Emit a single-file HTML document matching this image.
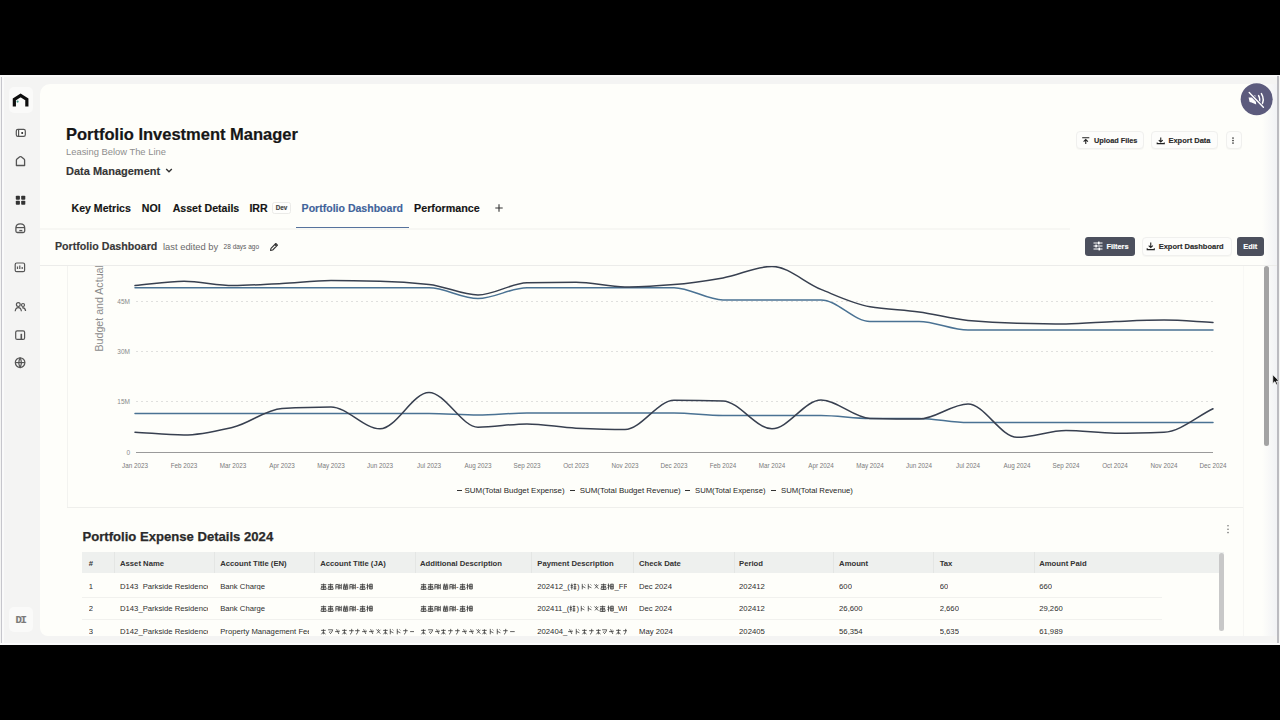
<!DOCTYPE html>
<html><head><meta charset="utf-8">
<style>
html,body{margin:0;padding:0;width:1280px;height:720px;overflow:hidden;background:#000;}
body{position:relative;font-family:"Liberation Sans",sans-serif;}
.a{position:absolute;}
.t{position:absolute;white-space:nowrap;line-height:1;font-family:"Liberation Sans",sans-serif;}
.b{font-weight:700;-webkit-text-stroke-width:0.15px;}
#screen{position:absolute;left:0;top:75px;width:1280px;height:570px;background:#f4f4f3;overflow:hidden;}
#main{position:absolute;left:40px;top:84px;width:1237px;height:552px;background:#fefefa;border-top-left-radius:10px;border-bottom-left-radius:8px;}
.btn{position:absolute;border:1px solid #f0f0ee;border-radius:4px;background:#fdfdfb;box-sizing:border-box;box-shadow:0 1px 1px rgba(0,0,0,0.03);}
.dbtn{position:absolute;background:#4c505d;border-radius:3px;}
.hl{position:absolute;height:1px;background:#ededea;}
.vl{position:absolute;width:1px;background:#f3f3f0;}
.th{position:absolute;white-space:nowrap;line-height:1;font-size:7.7px;font-weight:700;color:#333;top:559.6px;}
.td{position:absolute;white-space:nowrap;line-height:1;font-size:7.7px;color:#2e2e2e;overflow:hidden;}
.jp{font-size:7.2px;}
</style></head>
<body>
<div id="screen"></div>
<!-- top white line -->
<div class="a" style="left:0;top:75px;width:1280px;height:2px;background:#fafafa"></div>
<!-- left gray line -->
<div class="a" style="left:0.5px;top:77px;width:1.6px;height:566px;background:#c6c6cc"></div><div class="a" style="left:2.1px;top:77px;width:1.5px;height:566px;background:#fafafa"></div>
<!-- right gray line -->
<div class="a" style="left:1277px;top:76px;width:1.7px;height:566.5px;background:#bbbbc0"></div>
<div class="a" style="left:0;top:642.5px;width:1280px;height:2.5px;background:#fbfbfb"></div>
<div id="main"></div>
<div class="a" style="left:1262px;top:84px;width:15px;height:552px;background:linear-gradient(to right, rgba(242,243,246,0), #f1f2f5)"></div>

<!-- sidebar -->
<div class="a" style="left:9px;top:87px;width:24px;height:26px;border-radius:5px;background:#fafaf9"></div>
<svg class="a" style="left:0;top:80px" width="40" height="300" viewBox="0 80 40 300">
  <path d="M14.35,106.4 V99.4 L20.6,95.4 L26.85,99.4 V106.4" fill="none" stroke="#0d0d0d" stroke-width="3.2" stroke-linejoin="miter"/>
  <circle cx="17.6" cy="101.6" r="1.1" fill="#4a9a8c"/>
  <g fill="none" stroke="#555" stroke-width="1.2">
    <rect x="16.3" y="129.3" width="9" height="7.1" rx="1.6" fill="#fdfdfb"/>
    <line x1="18.6" y1="129.3" x2="18.6" y2="136.4"/>
    <path d="M16.4,165.5 V160.3 Q16.4,159.6 17,159.1 L19.8,156.8 Q20.5,156.3 21.2,156.8 L24,159.1 Q24.6,159.6 24.6,160.3 V165.5 Z" stroke-linejoin="round" stroke-width="1.3"/>
    <path d="M15.9,231 V228 Q15.9,223.9 20.3,223.9 Q24.7,223.9 24.7,228 V231 Q24.7,232.5 23.2,232.5 H17.4 Q15.9,232.5 15.9,231 Z" stroke-width="1.3"/>
    <line x1="15.9" y1="227.6" x2="24.7" y2="227.6"/>
    <rect x="15.2" y="263" width="9.4" height="8.7" rx="1.5"/>
    <path d="M17.5,269 V266.5 M19.8,269 V265.5 M22.2,269 V267"/>
    <circle cx="18.3" cy="304.6" r="1.9"/><path d="M15.2,311.3 Q15.6,307.6 18.3,307.6 Q21,307.6 21.4,311.3"/>
    <circle cx="23" cy="305" r="1.5"/><path d="M22.2,307.6 Q25.3,307.8 25.6,311"/>
    <rect x="15.7" y="330.8" width="8.9" height="8.6" rx="1.5"/>
    <rect x="20.5" y="333.8" width="1.6" height="5.6" fill="#555" stroke="none"/>
    <circle cx="22.2" cy="132.9" r="1" fill="#222" stroke="none"/>
    <rect x="19.3" y="229.9" width="3" height="1.3" fill="#555" stroke="none"/>
    <circle cx="20.1" cy="362.6" r="4.8"/><line x1="15.3" y1="362.6" x2="24.9" y2="362.6"/><path d="M20.1,357.8 Q17.6,362.6 20.1,367.4 Q22.6,362.6 20.1,357.8"/>
  </g>
  <g fill="#333">
    <rect x="15.8" y="195.8" width="4.1" height="4" rx="0.8"/><rect x="21.2" y="195.8" width="4.1" height="4" rx="0.8"/>
    <rect x="15.8" y="200.8" width="4.1" height="4" rx="0.8"/><rect x="21.2" y="200.8" width="4.1" height="4" rx="0.8"/>
  </g>
</svg>
<div class="a" style="left:9px;top:607px;width:24px;height:25px;border-radius:5px;background:#fafaf9"></div>
<div class="t b" style="left:15.4px;top:615.3px;font-size:10.6px;color:#7a7a7a;font-family:'Liberation Mono',monospace;letter-spacing:-1.2px">DI</div>

<!-- mute button -->
<svg class="a" style="left:1240px;top:82.7px" width="34" height="34" viewBox="0 0 34 34">
  <circle cx="16.7" cy="16.3" r="16" fill="#5c5b7d"/>
  <path d="M8.6,14.6 L11.4,14.6 L15.2,12 L16.2,21.6 L11.6,19.6 L9.6,19 Z" fill="#fff"/>
  <path d="M18.6,12.6 Q20.8,16.5 18.8,20.2 M21.4,10.6 Q25,16.5 21.4,22.4" fill="none" stroke="#fff" stroke-width="1.5" stroke-linecap="round"/>
  <line x1="9.2" y1="9.6" x2="23.4" y2="24.2" stroke="#5c5b7d" stroke-width="3"/>
  <line x1="9.2" y1="9.6" x2="23.4" y2="24.2" stroke="#fff" stroke-width="1.4" stroke-linecap="round"/>
</svg>

<!-- header -->
<div class="t b" style="left:66px;top:125.8px;font-size:16.5px;color:#161616;-webkit-text-stroke:0.2px #161616">Portfolio Investment Manager</div>
<div class="t" style="left:66px;top:147px;font-size:9.4px;color:#8e8e8e">Leasing Below The Line</div>
<div class="t b" style="left:66px;top:165.7px;font-size:11px;color:#353535">Data Management</div>
<svg class="a" style="left:164px;top:166px" width="12" height="10"><path d="M2.2,3 L5,5.8 L7.8,3" fill="none" stroke="#333" stroke-width="1.4"/></svg>

<div class="btn" style="left:1075.5px;top:131px;width:68.5px;height:17.5px"></div>
<svg class="a" style="left:1080px;top:134px" width="12" height="12"><path d="M2.2,3.8 H9.3 M5.75,10 V5.6 M3.6,7.6 L5.75,5.5 L7.9,7.6" fill="none" stroke="#222" stroke-width="1.1"/></svg>
<div class="t b" style="left:1094px;top:136.9px;font-size:7.3px;color:#2a2a2a">Upload Files</div>
<div class="btn" style="left:1151px;top:131px;width:67px;height:17.5px"></div>
<svg class="a" style="left:1155px;top:134px" width="12" height="12"><path d="M5.75,3.6 V8 M3.8,6.1 L5.75,8 L7.7,6.1 M2.2,8.6 V9.6 H9.3 V8.6" fill="none" stroke="#222" stroke-width="1.1"/></svg>
<div class="t b" style="left:1168.4px;top:136.9px;font-size:7.5px;color:#2a2a2a">Export Data</div>
<div class="btn" style="left:1225.5px;top:131px;width:16.5px;height:17.5px"></div>
<svg class="a" style="left:1230px;top:134px" width="6" height="12"><circle cx="3" cy="4" r="0.85" fill="#333"/><circle cx="3" cy="6.5" r="0.85" fill="#333"/><circle cx="3" cy="9" r="0.85" fill="#333"/></svg>

<!-- tabs -->
<div class="t b" style="left:71.6px;top:203px;font-size:10.55px;color:#151515">Key Metrics</div>
<div class="t b" style="left:141.8px;top:203px;font-size:10.6px;color:#151515">NOI</div>
<div class="t b" style="left:172.7px;top:203px;font-size:10.6px;color:#151515">Asset Details</div>
<div class="t b" style="left:249.4px;top:203px;font-size:10.6px;color:#151515">IRR</div>
<div class="a" style="left:272.4px;top:202px;width:18.6px;height:12.2px;border:1px solid #ebebe8;border-radius:2.5px;box-sizing:border-box;background:#fefefc"></div>
<div class="t b" style="left:275.8px;top:204.9px;font-size:6.3px;color:#444">Dev</div>
<div class="t b" style="left:301.6px;top:203px;font-size:10.55px;color:#41639a">Portfolio Dashboard</div>
<div class="t b" style="left:414px;top:203px;font-size:10.75px;color:#151515">Performance</div>
<svg class="a" style="left:493px;top:202px" width="12" height="12"><path d="M6,2.3 V9.7 M2.3,6 H9.7" fill="none" stroke="#333" stroke-width="1.1"/></svg>
<div class="hl" style="left:40px;top:228px;width:1030px;height:1.5px;background:#f7f7f3"></div>
<div class="a" style="left:296px;top:226.6px;width:113px;height:1.5px;background:#56729c"></div>

<!-- dashboard bar -->
<div class="t b" style="left:55px;top:241.4px;font-size:10.65px;color:#383838">Portfolio Dashboard</div>
<div class="t" style="left:163px;top:242.4px;font-size:9.4px;color:#6a6a6a">last edited by</div>
<div class="t" style="left:223.6px;top:244px;font-size:6.5px;color:#5a5a5a">28 days ago</div>
<svg class="a" style="left:268px;top:241px" width="12" height="12"><path d="M2.5,9.5 L3,7.3 L7.8,2.5 L9.5,4.2 L4.7,9 Z M6.8,3.5 L8.5,5.2" fill="none" stroke="#333" stroke-width="1.1" stroke-linejoin="round"/></svg>

<div class="dbtn" style="left:1085px;top:237px;width:50px;height:18.7px"></div>
<svg class="a" style="left:1092px;top:240px" width="12" height="12"><path d="M1.5,3 H10.5 M1.5,6 H10.5 M1.5,9 H10.5" fill="none" stroke="#fff" stroke-width="1"/><rect x="6" y="1.6" width="1.6" height="2.8" fill="#fff"/><rect x="3.3" y="4.6" width="1.6" height="2.8" fill="#fff"/><rect x="6.5" y="7.6" width="1.6" height="2.8" fill="#fff"/></svg>
<div class="t b" style="left:1106.4px;top:243px;font-size:7.4px;color:#fff">Filters</div>
<div class="btn" style="left:1142px;top:237px;width:89.5px;height:18.7px"></div>
<svg class="a" style="left:1145px;top:240px" width="12" height="12"><path d="M5.75,2.6 V7.6 M3.7,5.6 L5.75,7.6 L7.8,5.6 M2.2,8.3 V9.6 H9.3 V8.3" fill="none" stroke="#222" stroke-width="1.1"/></svg>
<div class="t b" style="left:1158.7px;top:243px;font-size:7.5px;color:#2a2a2a">Export Dashboard</div>
<div class="dbtn" style="left:1237px;top:237px;width:27px;height:18.7px"></div>
<div class="t b" style="left:1243.3px;top:243px;font-size:7.4px;color:#fff">Edit</div>

<div class="hl" style="left:40px;top:265px;width:1237px;background:#ececea"></div>

<!-- dashboard scroll content -->
<div class="a" style="left:40px;top:266px;width:1237px;height:370px;overflow:hidden">
  <div class="a" style="left:-40px;top:-266px;width:1280px;height:720px">
    <!-- chart card borders -->
    <div class="vl" style="left:67px;top:200px;height:307px"></div>
    <div class="vl" style="left:1243px;top:200px;height:307px;background:#f8f8f5"></div>
    <div class="hl" style="left:67px;top:507px;width:1176px;background:#efefec"></div>
    <!-- y-axis title -->
    <div class="t" style="left:55.5px;top:303px;width:86.5px;font-size:10.65px;color:#8c8c8c;transform:rotate(-90deg);transform-origin:50% 50%;text-align:center">Budget and Actual</div>
    <svg width="1280" height="720" viewBox="0 0 1280 720" style="position:absolute;left:0;top:0">
<g stroke="#e0e0de" stroke-width="1" stroke-dasharray="2,3">
<line x1="136" y1="301.5" x2="1213" y2="301.5"/>
<line x1="136" y1="351.5" x2="1213" y2="351.5"/>
<line x1="136" y1="401.5" x2="1213" y2="401.5"/>
</g>
<line x1="136" y1="452.5" x2="1213" y2="452.5" stroke="#9a9a9a" stroke-width="1"/>
<g font-family="Liberation Sans" font-size="6.5" fill="#8a8a8a" text-anchor="end">
<text x="130" y="304">45M</text><text x="130" y="354">30M</text><text x="130" y="404">15M</text><text x="130" y="454.5">0</text>
</g>
<g font-family="Liberation Sans" font-size="6.3" fill="#7a7a7a"><text x="135" y="467.5" text-anchor="middle">Jan 2023</text><text x="184" y="467.5" text-anchor="middle">Feb 2023</text><text x="233" y="467.5" text-anchor="middle">Mar 2023</text><text x="282" y="467.5" text-anchor="middle">Apr 2023</text><text x="331" y="467.5" text-anchor="middle">May 2023</text><text x="380" y="467.5" text-anchor="middle">Jun 2023</text><text x="429" y="467.5" text-anchor="middle">Jul 2023</text><text x="478" y="467.5" text-anchor="middle">Aug 2023</text><text x="527" y="467.5" text-anchor="middle">Sep 2023</text><text x="576" y="467.5" text-anchor="middle">Oct 2023</text><text x="625" y="467.5" text-anchor="middle">Nov 2023</text><text x="674" y="467.5" text-anchor="middle">Dec 2023</text><text x="723" y="467.5" text-anchor="middle">Feb 2024</text><text x="772" y="467.5" text-anchor="middle">Mar 2024</text><text x="821" y="467.5" text-anchor="middle">Apr 2024</text><text x="870" y="467.5" text-anchor="middle">May 2024</text><text x="919" y="467.5" text-anchor="middle">Jun 2024</text><text x="968" y="467.5" text-anchor="middle">Jul 2024</text><text x="1017" y="467.5" text-anchor="middle">Aug 2024</text><text x="1066" y="467.5" text-anchor="middle">Sep 2024</text><text x="1115" y="467.5" text-anchor="middle">Oct 2024</text><text x="1164" y="467.5" text-anchor="middle">Nov 2024</text><text x="1213" y="467.5" text-anchor="middle">Dec 2024</text></g>
<g fill="none" stroke-width="1.5" stroke-linecap="round">
<path d="M135.0,413.4 C151.3,413.4 167.7,413.4 184.0,413.4 C200.3,413.4 216.7,413.4 233.0,413.4 C249.3,413.4 265.7,413.4 282.0,413.4 C298.3,413.4 314.7,413.4 331.0,413.4 C347.3,413.4 363.7,413.4 380.0,413.4 C396.3,413.4 412.7,413.4 429.0,413.4 C445.3,413.4 461.7,415.0 478.0,415.0 C494.3,415.0 510.7,413.0 527.0,413.0 C543.3,413.0 559.7,413.0 576.0,413.0 C592.3,413.0 608.7,413.0 625.0,413.0 C641.3,413.0 657.7,413.0 674.0,413.0 C690.3,413.0 706.7,415.4 723.0,415.4 C739.3,415.4 755.7,415.4 772.0,415.4 C788.3,415.4 804.7,415.4 821.0,415.4 C837.3,415.4 853.7,418.4 870.0,418.4 C886.3,418.4 902.7,418.4 919.0,418.4 C935.3,418.4 951.7,422.6 968.0,422.6 C984.3,422.6 1000.7,422.6 1017.0,422.6 C1033.3,422.6 1049.7,422.6 1066.0,422.6 C1082.3,422.6 1098.7,422.6 1115.0,422.6 C1131.3,422.6 1147.7,422.6 1164.0,422.6 C1180.3,422.6 1196.7,422.6 1213.0,422.6" stroke="#4a7293"/>
<path d="M135.0,287.8 C151.3,287.8 167.7,287.8 184.0,287.8 C200.3,287.8 216.7,287.8 233.0,287.8 C249.3,287.8 265.7,287.8 282.0,287.8 C298.3,287.8 314.7,287.8 331.0,287.8 C347.3,287.8 363.7,287.8 380.0,287.8 C396.3,287.8 412.7,287.8 429.0,287.8 C445.3,287.8 461.7,298.6 478.0,298.6 C494.3,298.6 510.7,287.7 527.0,287.7 C543.3,287.7 559.7,287.7 576.0,287.7 C592.3,287.7 608.7,287.7 625.0,287.7 C641.3,287.7 657.7,287.7 674.0,287.7 C690.3,287.7 706.7,299.9 723.0,299.9 C739.3,299.9 755.7,299.9 772.0,299.9 C788.3,299.9 804.7,299.9 821.0,299.9 C837.3,299.9 853.7,321.5 870.0,321.5 C886.3,321.5 902.7,321.5 919.0,321.5 C935.3,321.5 951.7,330.1 968.0,330.1 C984.3,330.1 1000.7,330.1 1017.0,330.1 C1033.3,330.1 1049.7,330.1 1066.0,330.1 C1082.3,330.1 1098.7,330.1 1115.0,330.1 C1131.3,330.1 1147.7,330.1 1164.0,330.1 C1180.3,330.1 1196.7,330.1 1213.0,330.1" stroke="#4a7293"/>
<path d="M135.0,432.2 C151.3,433.1 167.7,435.0 184.0,435.0 C200.3,435.0 216.7,430.9 233.0,427.2 C249.3,423.5 265.7,409.3 282.0,408.4 C298.3,407.5 314.7,406.9 331.0,406.9 C347.3,406.9 363.7,428.8 380.0,428.8 C396.3,428.8 412.7,392.5 429.0,392.5 C445.3,392.5 461.7,427.2 478.0,427.2 C494.3,427.2 510.7,423.9 527.0,423.9 C543.3,423.9 559.7,427.5 576.0,428.2 C592.3,428.9 608.7,429.5 625.0,429.5 C641.3,429.5 657.7,400.3 674.0,400.3 C690.3,400.3 706.7,400.5 723.0,401.0 C739.3,401.5 755.7,428.8 772.0,428.8 C788.3,428.8 804.7,400.0 821.0,400.0 C837.3,400.0 853.7,418.0 870.0,418.4 C886.3,418.8 902.7,419.1 919.0,419.1 C935.3,419.1 951.7,404.0 968.0,404.0 C984.3,404.0 1000.7,437.3 1017.0,437.3 C1033.3,437.3 1049.7,430.5 1066.0,430.5 C1082.3,430.5 1098.7,433.2 1115.0,433.2 C1131.3,433.2 1147.7,432.8 1164.0,432.2 C1180.3,431.6 1196.7,416.6 1213.0,408.8" stroke="#384050"/>
<path d="M135.0,285.6 C151.3,284.2 167.7,281.3 184.0,281.3 C200.3,281.3 216.7,285.6 233.0,285.6 C249.3,285.6 265.7,284.2 282.0,283.4 C298.3,282.6 314.7,280.6 331.0,280.6 C347.3,280.6 363.7,280.9 380.0,281.3 C396.3,281.7 412.7,282.8 429.0,284.4 C445.3,286.0 461.7,295.0 478.0,295.0 C494.3,295.0 510.7,283.2 527.0,282.8 C543.3,282.4 559.7,282.2 576.0,282.2 C592.3,282.2 608.7,287.0 625.0,287.0 C641.3,287.0 657.7,285.7 674.0,284.5 C690.3,283.3 706.7,280.7 723.0,277.9 C739.3,275.1 755.7,266.4 772.0,266.4 C788.3,266.4 804.7,282.8 821.0,289.4 C837.3,296.0 853.7,304.0 870.0,306.7 C886.3,309.4 902.7,309.7 919.0,311.9 C935.3,314.1 951.7,319.1 968.0,320.5 C984.3,321.9 1000.7,322.8 1017.0,323.2 C1033.3,323.6 1049.7,323.9 1066.0,323.9 C1082.3,323.9 1098.7,322.1 1115.0,321.5 C1131.3,320.9 1147.7,320.1 1164.0,320.1 C1180.3,320.1 1196.7,321.7 1213.0,322.5" stroke="#384050"/>
</g>
</svg>
    <!-- legend -->
    <div class="a" style="left:456.6px;top:489.6px;width:5px;height:1.4px;background:#333"></div>
    <div class="t" style="left:464.5px;top:486.8px;font-size:7.95px;color:#262626">SUM(Total Budget Expense)</div>
    <div class="a" style="left:570px;top:489.6px;width:5px;height:1.4px;background:#333"></div>
    <div class="t" style="left:579.7px;top:486.8px;font-size:7.95px;color:#262626">SUM(Total Budget Revenue)</div>
    <div class="a" style="left:685px;top:489.6px;width:5px;height:1.4px;background:#333"></div>
    <div class="t" style="left:695px;top:486.8px;font-size:7.7px;color:#262626">SUM(Total Expense)</div>
    <div class="a" style="left:771px;top:489.6px;width:5px;height:1.4px;background:#333"></div>
    <div class="t" style="left:781px;top:486.8px;font-size:7.75px;color:#262626">SUM(Total Revenue)</div>

    <!-- table card -->
        <div class="vl" style="left:1242.5px;top:507px;height:200px;background:#f6f6f3"></div>
    <div class="t b" style="left:82.5px;top:530px;font-size:13.1px;color:#2a2a2a;-webkit-text-stroke:0.25px #2a2a2a">Portfolio Expense Details 2024</div>
    <svg class="a" style="left:1225px;top:523px" width="6" height="12"><circle cx="3" cy="2.8" r="0.8" fill="#777"/><circle cx="3" cy="6.2" r="0.8" fill="#777"/><circle cx="3" cy="9.6" r="0.8" fill="#777"/></svg>

    <div class="a" style="left:82px;top:551.5px;width:1142px;height:21.7px;background:#eef0ee"></div>
    <div class="vl" style="left:114px;top:551.5px;height:21.7px;background:#e4e6e4"></div>
    <div class="vl" style="left:214px;top:551.5px;height:21.7px;background:#e4e6e4"></div>
    <div class="vl" style="left:313.5px;top:551.5px;height:21.7px;background:#e4e6e4"></div>
    <div class="vl" style="left:415px;top:551.5px;height:21.7px;background:#e4e6e4"></div>
    <div class="vl" style="left:531px;top:551.5px;height:21.7px;background:#e4e6e4"></div>
    <div class="vl" style="left:633px;top:551.5px;height:21.7px;background:#e4e6e4"></div>
    <div class="vl" style="left:733.5px;top:551.5px;height:21.7px;background:#e4e6e4"></div>
    <div class="vl" style="left:833px;top:551.5px;height:21.7px;background:#e4e6e4"></div>
    <div class="vl" style="left:933px;top:551.5px;height:21.7px;background:#e4e6e4"></div>
    <div class="vl" style="left:1033.5px;top:551.5px;height:21.7px;background:#e4e6e4"></div>
    <div class="th" style="left:88.8px">#</div>
    <div class="th" style="left:120px">Asset Name</div>
    <div class="th" style="left:220.2px">Account Title (EN)</div>
    <div class="th" style="left:320.2px">Account Title (JA)</div>
    <div class="th" style="left:420px">Additional Description</div>
    <div class="th" style="left:537.3px">Payment Description</div>
    <div class="th" style="left:639px">Check Date</div>
    <div class="th" style="left:739.1px">Period</div>
    <div class="th" style="left:839.1px">Amount</div>
    <div class="th" style="left:939.7px">Tax</div>
    <div class="th" style="left:1039.2px">Amount Paid</div>

    <div class="hl" style="left:82px;top:596.5px;width:1080px;background:#f1f1ee"></div>
    <div class="hl" style="left:82px;top:619px;width:1080px;background:#f1f1ee"></div>

    <div class="td" style="left:88.8px;top:582.5px;">1</div><div class="td" style="left:120px;top:582.5px;width:88px;">D143_Parkside Residence</div><div class="td" style="left:220.2px;top:582.5px;width:89px;">Bank Charge</div><div class="td" style="left:320.2px;top:582.5px;width:94px;"><svg width="7.20" height="7.20" viewBox="0 0 1 1" preserveAspectRatio="none" style="vertical-align:-0.86px"><path transform="translate(0.08,0.08) scale(0.84)" d="M0.05,0.18 H0.95 M0.5,0.0 V1.0 M0.1,0.45 H0.9 M0.2,0.7 H0.8 M0.2,0.45 L0.05,0.95 M0.8,0.45 L0.95,0.95 M0.1,0.98 H0.9" fill="none" stroke="#3a3a3a" stroke-width="0.136"/></svg><svg width="7.20" height="7.20" viewBox="0 0 1 1" preserveAspectRatio="none" style="vertical-align:-0.86px"><path transform="translate(0.08,0.08) scale(0.84)" d="M0.05,0.18 H0.95 M0.5,0.0 V1.0 M0.1,0.45 H0.9 M0.2,0.7 H0.8 M0.2,0.45 L0.05,0.95 M0.8,0.45 L0.95,0.95 M0.1,0.98 H0.9" fill="none" stroke="#3a3a3a" stroke-width="0.136"/></svg><svg width="7.20" height="7.20" viewBox="0 0 1 1" preserveAspectRatio="none" style="vertical-align:-0.86px"><path transform="translate(0.08,0.08) scale(0.84)" d="M0.05,0.15 H0.45 V0.95 M0.05,0.15 V0.95 M0.05,0.55 H0.45 M0.6,0.05 V0.95 M0.6,0.35 H0.95 M0.6,0.7 H0.95 M0.95,0.05 V0.95" fill="none" stroke="#3a3a3a" stroke-width="0.136"/></svg><svg width="7.20" height="7.20" viewBox="0 0 1 1" preserveAspectRatio="none" style="vertical-align:-0.86px"><path transform="translate(0.08,0.08) scale(0.84)" d="M0.05,0.25 H0.95 M0.3,0.0 V0.45 M0.7,0.0 V0.45 M0.15,0.45 H0.85 V0.95 H0.15 Z M0.15,0.7 H0.85 M0.5,0.45 V0.95" fill="none" stroke="#3a3a3a" stroke-width="0.136"/></svg><svg width="7.20" height="7.20" viewBox="0 0 1 1" preserveAspectRatio="none" style="vertical-align:-0.86px"><path transform="translate(0.08,0.08) scale(0.84)" d="M0.05,0.15 H0.45 V0.95 M0.05,0.15 V0.95 M0.05,0.55 H0.45 M0.6,0.05 V0.95 M0.6,0.35 H0.95 M0.6,0.7 H0.95 M0.95,0.05 V0.95" fill="none" stroke="#3a3a3a" stroke-width="0.136"/></svg>-<svg width="7.20" height="7.20" viewBox="0 0 1 1" preserveAspectRatio="none" style="vertical-align:-0.86px"><path transform="translate(0.08,0.08) scale(0.84)" d="M0.05,0.18 H0.95 M0.5,0.0 V1.0 M0.1,0.45 H0.9 M0.2,0.7 H0.8 M0.2,0.45 L0.05,0.95 M0.8,0.45 L0.95,0.95 M0.1,0.98 H0.9" fill="none" stroke="#3a3a3a" stroke-width="0.136"/></svg><svg width="7.20" height="7.20" viewBox="0 0 1 1" preserveAspectRatio="none" style="vertical-align:-0.86px"><path transform="translate(0.08,0.08) scale(0.84)" d="M0.15,0.0 V1.0 M0.0,0.3 H0.35 M0.0,0.65 L0.35,0.5 M0.5,0.1 H0.95 V0.9 H0.5 Z M0.5,0.5 H0.95 M0.72,0.1 V0.9" fill="none" stroke="#3a3a3a" stroke-width="0.136"/></svg></div><div class="td" style="left:420px;top:582.5px;width:111px;"><svg width="7.20" height="7.20" viewBox="0 0 1 1" preserveAspectRatio="none" style="vertical-align:-0.86px"><path transform="translate(0.08,0.08) scale(0.84)" d="M0.05,0.18 H0.95 M0.5,0.0 V1.0 M0.1,0.45 H0.9 M0.2,0.7 H0.8 M0.2,0.45 L0.05,0.95 M0.8,0.45 L0.95,0.95 M0.1,0.98 H0.9" fill="none" stroke="#3a3a3a" stroke-width="0.136"/></svg><svg width="7.20" height="7.20" viewBox="0 0 1 1" preserveAspectRatio="none" style="vertical-align:-0.86px"><path transform="translate(0.08,0.08) scale(0.84)" d="M0.05,0.18 H0.95 M0.5,0.0 V1.0 M0.1,0.45 H0.9 M0.2,0.7 H0.8 M0.2,0.45 L0.05,0.95 M0.8,0.45 L0.95,0.95 M0.1,0.98 H0.9" fill="none" stroke="#3a3a3a" stroke-width="0.136"/></svg><svg width="7.20" height="7.20" viewBox="0 0 1 1" preserveAspectRatio="none" style="vertical-align:-0.86px"><path transform="translate(0.08,0.08) scale(0.84)" d="M0.05,0.15 H0.45 V0.95 M0.05,0.15 V0.95 M0.05,0.55 H0.45 M0.6,0.05 V0.95 M0.6,0.35 H0.95 M0.6,0.7 H0.95 M0.95,0.05 V0.95" fill="none" stroke="#3a3a3a" stroke-width="0.136"/></svg><svg width="7.20" height="7.20" viewBox="0 0 1 1" preserveAspectRatio="none" style="vertical-align:-0.86px"><path transform="translate(0.08,0.08) scale(0.84)" d="M0.05,0.25 H0.95 M0.3,0.0 V0.45 M0.7,0.0 V0.45 M0.15,0.45 H0.85 V0.95 H0.15 Z M0.15,0.7 H0.85 M0.5,0.45 V0.95" fill="none" stroke="#3a3a3a" stroke-width="0.136"/></svg><svg width="7.20" height="7.20" viewBox="0 0 1 1" preserveAspectRatio="none" style="vertical-align:-0.86px"><path transform="translate(0.08,0.08) scale(0.84)" d="M0.05,0.15 H0.45 V0.95 M0.05,0.15 V0.95 M0.05,0.55 H0.45 M0.6,0.05 V0.95 M0.6,0.35 H0.95 M0.6,0.7 H0.95 M0.95,0.05 V0.95" fill="none" stroke="#3a3a3a" stroke-width="0.136"/></svg>-<svg width="7.20" height="7.20" viewBox="0 0 1 1" preserveAspectRatio="none" style="vertical-align:-0.86px"><path transform="translate(0.08,0.08) scale(0.84)" d="M0.05,0.18 H0.95 M0.5,0.0 V1.0 M0.1,0.45 H0.9 M0.2,0.7 H0.8 M0.2,0.45 L0.05,0.95 M0.8,0.45 L0.95,0.95 M0.1,0.98 H0.9" fill="none" stroke="#3a3a3a" stroke-width="0.136"/></svg><svg width="7.20" height="7.20" viewBox="0 0 1 1" preserveAspectRatio="none" style="vertical-align:-0.86px"><path transform="translate(0.08,0.08) scale(0.84)" d="M0.15,0.0 V1.0 M0.0,0.3 H0.35 M0.0,0.65 L0.35,0.5 M0.5,0.1 H0.95 V0.9 H0.5 Z M0.5,0.5 H0.95 M0.72,0.1 V0.9" fill="none" stroke="#3a3a3a" stroke-width="0.136"/></svg></div><div class="td" style="left:537.3px;top:582.5px;width:90px;">202412_(<svg width="7.20" height="7.20" viewBox="0 0 1 1" preserveAspectRatio="none" style="vertical-align:-0.86px"><path transform="translate(0.08,0.08) scale(0.84)" d="M0.2,0.0 V1.0 M0.0,0.3 H0.4 M0.0,0.6 H0.4 M0.5,0.15 H0.95 M0.72,0.0 V1.0 M0.5,0.55 H0.95 M0.5,0.85 H0.95" fill="none" stroke="#3a3a3a" stroke-width="0.136"/></svg>)<svg width="6.84" height="7.20" viewBox="0 0 1 1" preserveAspectRatio="none" style="vertical-align:-0.86px"><path transform="translate(0.08,0.08) scale(0.84)" d="M0.3,0.05 V0.95 M0.3,0.45 L0.85,0.7 M0.7,0.15 L0.85,0.3" fill="none" stroke="#3a3a3a" stroke-width="0.136"/></svg><svg width="6.84" height="7.20" viewBox="0 0 1 1" preserveAspectRatio="none" style="vertical-align:-0.86px"><path transform="translate(0.08,0.08) scale(0.84)" d="M0.3,0.05 V0.95 M0.3,0.45 L0.85,0.7 M0.7,0.15 L0.85,0.3" fill="none" stroke="#3a3a3a" stroke-width="0.136"/></svg><svg width="6.84" height="7.20" viewBox="0 0 1 1" preserveAspectRatio="none" style="vertical-align:-0.86px"><path transform="translate(0.08,0.08) scale(0.84)" d="M0.15,0.15 L0.85,0.85 M0.85,0.2 L0.25,0.8 M0.5,0.1 V0.3" fill="none" stroke="#3a3a3a" stroke-width="0.136"/></svg><svg width="7.20" height="7.20" viewBox="0 0 1 1" preserveAspectRatio="none" style="vertical-align:-0.86px"><path transform="translate(0.08,0.08) scale(0.84)" d="M0.05,0.18 H0.95 M0.5,0.0 V1.0 M0.1,0.45 H0.9 M0.2,0.7 H0.8 M0.2,0.45 L0.05,0.95 M0.8,0.45 L0.95,0.95 M0.1,0.98 H0.9" fill="none" stroke="#3a3a3a" stroke-width="0.136"/></svg><svg width="7.20" height="7.20" viewBox="0 0 1 1" preserveAspectRatio="none" style="vertical-align:-0.86px"><path transform="translate(0.08,0.08) scale(0.84)" d="M0.15,0.0 V1.0 M0.0,0.3 H0.35 M0.0,0.65 L0.35,0.5 M0.5,0.1 H0.95 V0.9 H0.5 Z M0.5,0.5 H0.95 M0.72,0.1 V0.9" fill="none" stroke="#3a3a3a" stroke-width="0.136"/></svg>_FR<svg width="7.20" height="7.20" viewBox="0 0 1 1" preserveAspectRatio="none" style="vertical-align:-0.86px"><path transform="translate(0.08,0.08) scale(0.84)" d="M0.05,0.18 H0.95 M0.5,0.0 V1.0 M0.1,0.45 H0.9 M0.2,0.7 H0.8 M0.2,0.45 L0.05,0.95 M0.8,0.45 L0.95,0.95 M0.1,0.98 H0.9" fill="none" stroke="#3a3a3a" stroke-width="0.136"/></svg><svg width="7.20" height="7.20" viewBox="0 0 1 1" preserveAspectRatio="none" style="vertical-align:-0.86px"><path transform="translate(0.08,0.08) scale(0.84)" d="M0.05,0.18 H0.95 M0.5,0.0 V1.0 M0.1,0.45 H0.9 M0.2,0.7 H0.8 M0.2,0.45 L0.05,0.95 M0.8,0.45 L0.95,0.95 M0.1,0.98 H0.9" fill="none" stroke="#3a3a3a" stroke-width="0.136"/></svg><svg width="7.20" height="7.20" viewBox="0 0 1 1" preserveAspectRatio="none" style="vertical-align:-0.86px"><path transform="translate(0.08,0.08) scale(0.84)" d="M0.05,0.15 H0.45 V0.95 M0.05,0.15 V0.95 M0.05,0.55 H0.45 M0.6,0.05 V0.95 M0.6,0.35 H0.95 M0.6,0.7 H0.95 M0.95,0.05 V0.95" fill="none" stroke="#3a3a3a" stroke-width="0.136"/></svg><svg width="7.20" height="7.20" viewBox="0 0 1 1" preserveAspectRatio="none" style="vertical-align:-0.86px"><path transform="translate(0.08,0.08) scale(0.84)" d="M0.05,0.25 H0.95 M0.3,0.0 V0.45 M0.7,0.0 V0.45 M0.15,0.45 H0.85 V0.95 H0.15 Z M0.15,0.7 H0.85 M0.5,0.45 V0.95" fill="none" stroke="#3a3a3a" stroke-width="0.136"/></svg><svg width="7.20" height="7.20" viewBox="0 0 1 1" preserveAspectRatio="none" style="vertical-align:-0.86px"><path transform="translate(0.08,0.08) scale(0.84)" d="M0.05,0.15 H0.45 V0.95 M0.05,0.15 V0.95 M0.05,0.55 H0.45 M0.6,0.05 V0.95 M0.6,0.35 H0.95 M0.6,0.7 H0.95 M0.95,0.05 V0.95" fill="none" stroke="#3a3a3a" stroke-width="0.136"/></svg></div><div class="td" style="left:639px;top:582.5px;">Dec 2024</div><div class="td" style="left:739.1px;top:582.5px;">202412</div><div class="td" style="left:839.1px;top:582.5px;">600</div><div class="td" style="left:939.7px;top:582.5px;">60</div><div class="td" style="left:1039.2px;top:582.5px;">660</div><div class="td" style="left:88.8px;top:605.1px;">2</div><div class="td" style="left:120px;top:605.1px;width:88px;">D143_Parkside Residence</div><div class="td" style="left:220.2px;top:605.1px;width:89px;">Bank Charge</div><div class="td" style="left:320.2px;top:605.1px;width:94px;"><svg width="7.20" height="7.20" viewBox="0 0 1 1" preserveAspectRatio="none" style="vertical-align:-0.86px"><path transform="translate(0.08,0.08) scale(0.84)" d="M0.05,0.18 H0.95 M0.5,0.0 V1.0 M0.1,0.45 H0.9 M0.2,0.7 H0.8 M0.2,0.45 L0.05,0.95 M0.8,0.45 L0.95,0.95 M0.1,0.98 H0.9" fill="none" stroke="#3a3a3a" stroke-width="0.136"/></svg><svg width="7.20" height="7.20" viewBox="0 0 1 1" preserveAspectRatio="none" style="vertical-align:-0.86px"><path transform="translate(0.08,0.08) scale(0.84)" d="M0.05,0.18 H0.95 M0.5,0.0 V1.0 M0.1,0.45 H0.9 M0.2,0.7 H0.8 M0.2,0.45 L0.05,0.95 M0.8,0.45 L0.95,0.95 M0.1,0.98 H0.9" fill="none" stroke="#3a3a3a" stroke-width="0.136"/></svg><svg width="7.20" height="7.20" viewBox="0 0 1 1" preserveAspectRatio="none" style="vertical-align:-0.86px"><path transform="translate(0.08,0.08) scale(0.84)" d="M0.05,0.15 H0.45 V0.95 M0.05,0.15 V0.95 M0.05,0.55 H0.45 M0.6,0.05 V0.95 M0.6,0.35 H0.95 M0.6,0.7 H0.95 M0.95,0.05 V0.95" fill="none" stroke="#3a3a3a" stroke-width="0.136"/></svg><svg width="7.20" height="7.20" viewBox="0 0 1 1" preserveAspectRatio="none" style="vertical-align:-0.86px"><path transform="translate(0.08,0.08) scale(0.84)" d="M0.05,0.25 H0.95 M0.3,0.0 V0.45 M0.7,0.0 V0.45 M0.15,0.45 H0.85 V0.95 H0.15 Z M0.15,0.7 H0.85 M0.5,0.45 V0.95" fill="none" stroke="#3a3a3a" stroke-width="0.136"/></svg><svg width="7.20" height="7.20" viewBox="0 0 1 1" preserveAspectRatio="none" style="vertical-align:-0.86px"><path transform="translate(0.08,0.08) scale(0.84)" d="M0.05,0.15 H0.45 V0.95 M0.05,0.15 V0.95 M0.05,0.55 H0.45 M0.6,0.05 V0.95 M0.6,0.35 H0.95 M0.6,0.7 H0.95 M0.95,0.05 V0.95" fill="none" stroke="#3a3a3a" stroke-width="0.136"/></svg>-<svg width="7.20" height="7.20" viewBox="0 0 1 1" preserveAspectRatio="none" style="vertical-align:-0.86px"><path transform="translate(0.08,0.08) scale(0.84)" d="M0.05,0.18 H0.95 M0.5,0.0 V1.0 M0.1,0.45 H0.9 M0.2,0.7 H0.8 M0.2,0.45 L0.05,0.95 M0.8,0.45 L0.95,0.95 M0.1,0.98 H0.9" fill="none" stroke="#3a3a3a" stroke-width="0.136"/></svg><svg width="7.20" height="7.20" viewBox="0 0 1 1" preserveAspectRatio="none" style="vertical-align:-0.86px"><path transform="translate(0.08,0.08) scale(0.84)" d="M0.15,0.0 V1.0 M0.0,0.3 H0.35 M0.0,0.65 L0.35,0.5 M0.5,0.1 H0.95 V0.9 H0.5 Z M0.5,0.5 H0.95 M0.72,0.1 V0.9" fill="none" stroke="#3a3a3a" stroke-width="0.136"/></svg></div><div class="td" style="left:420px;top:605.1px;width:111px;"><svg width="7.20" height="7.20" viewBox="0 0 1 1" preserveAspectRatio="none" style="vertical-align:-0.86px"><path transform="translate(0.08,0.08) scale(0.84)" d="M0.05,0.18 H0.95 M0.5,0.0 V1.0 M0.1,0.45 H0.9 M0.2,0.7 H0.8 M0.2,0.45 L0.05,0.95 M0.8,0.45 L0.95,0.95 M0.1,0.98 H0.9" fill="none" stroke="#3a3a3a" stroke-width="0.136"/></svg><svg width="7.20" height="7.20" viewBox="0 0 1 1" preserveAspectRatio="none" style="vertical-align:-0.86px"><path transform="translate(0.08,0.08) scale(0.84)" d="M0.05,0.18 H0.95 M0.5,0.0 V1.0 M0.1,0.45 H0.9 M0.2,0.7 H0.8 M0.2,0.45 L0.05,0.95 M0.8,0.45 L0.95,0.95 M0.1,0.98 H0.9" fill="none" stroke="#3a3a3a" stroke-width="0.136"/></svg><svg width="7.20" height="7.20" viewBox="0 0 1 1" preserveAspectRatio="none" style="vertical-align:-0.86px"><path transform="translate(0.08,0.08) scale(0.84)" d="M0.05,0.15 H0.45 V0.95 M0.05,0.15 V0.95 M0.05,0.55 H0.45 M0.6,0.05 V0.95 M0.6,0.35 H0.95 M0.6,0.7 H0.95 M0.95,0.05 V0.95" fill="none" stroke="#3a3a3a" stroke-width="0.136"/></svg><svg width="7.20" height="7.20" viewBox="0 0 1 1" preserveAspectRatio="none" style="vertical-align:-0.86px"><path transform="translate(0.08,0.08) scale(0.84)" d="M0.05,0.25 H0.95 M0.3,0.0 V0.45 M0.7,0.0 V0.45 M0.15,0.45 H0.85 V0.95 H0.15 Z M0.15,0.7 H0.85 M0.5,0.45 V0.95" fill="none" stroke="#3a3a3a" stroke-width="0.136"/></svg><svg width="7.20" height="7.20" viewBox="0 0 1 1" preserveAspectRatio="none" style="vertical-align:-0.86px"><path transform="translate(0.08,0.08) scale(0.84)" d="M0.05,0.15 H0.45 V0.95 M0.05,0.15 V0.95 M0.05,0.55 H0.45 M0.6,0.05 V0.95 M0.6,0.35 H0.95 M0.6,0.7 H0.95 M0.95,0.05 V0.95" fill="none" stroke="#3a3a3a" stroke-width="0.136"/></svg>-<svg width="7.20" height="7.20" viewBox="0 0 1 1" preserveAspectRatio="none" style="vertical-align:-0.86px"><path transform="translate(0.08,0.08) scale(0.84)" d="M0.05,0.18 H0.95 M0.5,0.0 V1.0 M0.1,0.45 H0.9 M0.2,0.7 H0.8 M0.2,0.45 L0.05,0.95 M0.8,0.45 L0.95,0.95 M0.1,0.98 H0.9" fill="none" stroke="#3a3a3a" stroke-width="0.136"/></svg><svg width="7.20" height="7.20" viewBox="0 0 1 1" preserveAspectRatio="none" style="vertical-align:-0.86px"><path transform="translate(0.08,0.08) scale(0.84)" d="M0.15,0.0 V1.0 M0.0,0.3 H0.35 M0.0,0.65 L0.35,0.5 M0.5,0.1 H0.95 V0.9 H0.5 Z M0.5,0.5 H0.95 M0.72,0.1 V0.9" fill="none" stroke="#3a3a3a" stroke-width="0.136"/></svg></div><div class="td" style="left:537.3px;top:605.1px;width:90px;">202411_(<svg width="7.20" height="7.20" viewBox="0 0 1 1" preserveAspectRatio="none" style="vertical-align:-0.86px"><path transform="translate(0.08,0.08) scale(0.84)" d="M0.2,0.0 V1.0 M0.0,0.3 H0.4 M0.0,0.6 H0.4 M0.5,0.15 H0.95 M0.72,0.0 V1.0 M0.5,0.55 H0.95 M0.5,0.85 H0.95" fill="none" stroke="#3a3a3a" stroke-width="0.136"/></svg>)<svg width="6.84" height="7.20" viewBox="0 0 1 1" preserveAspectRatio="none" style="vertical-align:-0.86px"><path transform="translate(0.08,0.08) scale(0.84)" d="M0.3,0.05 V0.95 M0.3,0.45 L0.85,0.7 M0.7,0.15 L0.85,0.3" fill="none" stroke="#3a3a3a" stroke-width="0.136"/></svg><svg width="6.84" height="7.20" viewBox="0 0 1 1" preserveAspectRatio="none" style="vertical-align:-0.86px"><path transform="translate(0.08,0.08) scale(0.84)" d="M0.3,0.05 V0.95 M0.3,0.45 L0.85,0.7 M0.7,0.15 L0.85,0.3" fill="none" stroke="#3a3a3a" stroke-width="0.136"/></svg><svg width="6.84" height="7.20" viewBox="0 0 1 1" preserveAspectRatio="none" style="vertical-align:-0.86px"><path transform="translate(0.08,0.08) scale(0.84)" d="M0.15,0.15 L0.85,0.85 M0.85,0.2 L0.25,0.8 M0.5,0.1 V0.3" fill="none" stroke="#3a3a3a" stroke-width="0.136"/></svg><svg width="7.20" height="7.20" viewBox="0 0 1 1" preserveAspectRatio="none" style="vertical-align:-0.86px"><path transform="translate(0.08,0.08) scale(0.84)" d="M0.05,0.18 H0.95 M0.5,0.0 V1.0 M0.1,0.45 H0.9 M0.2,0.7 H0.8 M0.2,0.45 L0.05,0.95 M0.8,0.45 L0.95,0.95 M0.1,0.98 H0.9" fill="none" stroke="#3a3a3a" stroke-width="0.136"/></svg><svg width="7.20" height="7.20" viewBox="0 0 1 1" preserveAspectRatio="none" style="vertical-align:-0.86px"><path transform="translate(0.08,0.08) scale(0.84)" d="M0.15,0.0 V1.0 M0.0,0.3 H0.35 M0.0,0.65 L0.35,0.5 M0.5,0.1 H0.95 V0.9 H0.5 Z M0.5,0.5 H0.95 M0.72,0.1 V0.9" fill="none" stroke="#3a3a3a" stroke-width="0.136"/></svg>_WEB<svg width="7.20" height="7.20" viewBox="0 0 1 1" preserveAspectRatio="none" style="vertical-align:-0.86px"><path transform="translate(0.08,0.08) scale(0.84)" d="M0.05,0.18 H0.95 M0.5,0.0 V1.0 M0.1,0.45 H0.9 M0.2,0.7 H0.8 M0.2,0.45 L0.05,0.95 M0.8,0.45 L0.95,0.95 M0.1,0.98 H0.9" fill="none" stroke="#3a3a3a" stroke-width="0.136"/></svg><svg width="7.20" height="7.20" viewBox="0 0 1 1" preserveAspectRatio="none" style="vertical-align:-0.86px"><path transform="translate(0.08,0.08) scale(0.84)" d="M0.05,0.18 H0.95 M0.5,0.0 V1.0 M0.1,0.45 H0.9 M0.2,0.7 H0.8 M0.2,0.45 L0.05,0.95 M0.8,0.45 L0.95,0.95 M0.1,0.98 H0.9" fill="none" stroke="#3a3a3a" stroke-width="0.136"/></svg></div><div class="td" style="left:639px;top:605.1px;">Dec 2024</div><div class="td" style="left:739.1px;top:605.1px;">202412</div><div class="td" style="left:839.1px;top:605.1px;">26,600</div><div class="td" style="left:939.7px;top:605.1px;">2,660</div><div class="td" style="left:1039.2px;top:605.1px;">29,260</div><div class="td" style="left:88.8px;top:627.9px;">3</div><div class="td" style="left:120px;top:627.9px;width:88px;">D142_Parkside Residence</div><div class="td" style="left:220.2px;top:627.9px;width:89px;">Property Management Fee</div><div class="td" style="left:320.2px;top:627.9px;width:94px;"><svg width="6.84" height="7.20" viewBox="0 0 1 1" preserveAspectRatio="none" style="vertical-align:-0.86px"><path transform="translate(0.08,0.08) scale(0.84)" d="M0.1,0.3 H0.9 M0.5,0.1 V0.95 M0.15,0.95 L0.5,0.55 L0.85,0.95" fill="none" stroke="#3a3a3a" stroke-width="0.136"/></svg><svg width="6.84" height="7.20" viewBox="0 0 1 1" preserveAspectRatio="none" style="vertical-align:-0.86px"><path transform="translate(0.08,0.08) scale(0.84)" d="M0.1,0.2 H0.9 Q0.8,0.6 0.45,0.9 M0.45,0.45 L0.3,0.7" fill="none" stroke="#3a3a3a" stroke-width="0.136"/></svg><svg width="6.84" height="7.20" viewBox="0 0 1 1" preserveAspectRatio="none" style="vertical-align:-0.86px"><path transform="translate(0.08,0.08) scale(0.84)" d="M0.1,0.5 H0.9 M0.35,0.1 L0.75,0.9 M0.7,0.2 L0.8,0.35" fill="none" stroke="#3a3a3a" stroke-width="0.136"/></svg><svg width="6.84" height="7.20" viewBox="0 0 1 1" preserveAspectRatio="none" style="vertical-align:-0.86px"><path transform="translate(0.08,0.08) scale(0.84)" d="M0.1,0.3 H0.9 M0.5,0.1 V0.95 M0.15,0.95 L0.5,0.55 L0.85,0.95" fill="none" stroke="#3a3a3a" stroke-width="0.136"/></svg><svg width="6.84" height="7.20" viewBox="0 0 1 1" preserveAspectRatio="none" style="vertical-align:-0.86px"><path transform="translate(0.08,0.08) scale(0.84)" d="M0.1,0.35 H0.9 M0.55,0.05 V0.6 Q0.5,0.85 0.25,0.95" fill="none" stroke="#3a3a3a" stroke-width="0.136"/></svg><svg width="6.84" height="7.20" viewBox="0 0 1 1" preserveAspectRatio="none" style="vertical-align:-0.86px"><path transform="translate(0.08,0.08) scale(0.84)" d="M0.1,0.35 H0.9 M0.55,0.05 V0.6 Q0.5,0.85 0.25,0.95" fill="none" stroke="#3a3a3a" stroke-width="0.136"/></svg><svg width="6.84" height="7.20" viewBox="0 0 1 1" preserveAspectRatio="none" style="vertical-align:-0.86px"><path transform="translate(0.08,0.08) scale(0.84)" d="M0.1,0.5 H0.9 M0.35,0.1 L0.75,0.9 M0.7,0.2 L0.8,0.35" fill="none" stroke="#3a3a3a" stroke-width="0.136"/></svg><svg width="6.84" height="7.20" viewBox="0 0 1 1" preserveAspectRatio="none" style="vertical-align:-0.86px"><path transform="translate(0.08,0.08) scale(0.84)" d="M0.1,0.5 H0.9 M0.35,0.1 L0.75,0.9 M0.7,0.2 L0.8,0.35" fill="none" stroke="#3a3a3a" stroke-width="0.136"/></svg><svg width="6.84" height="7.20" viewBox="0 0 1 1" preserveAspectRatio="none" style="vertical-align:-0.86px"><path transform="translate(0.08,0.08) scale(0.84)" d="M0.15,0.15 L0.85,0.85 M0.85,0.2 L0.25,0.8 M0.5,0.1 V0.3" fill="none" stroke="#3a3a3a" stroke-width="0.136"/></svg><svg width="6.84" height="7.20" viewBox="0 0 1 1" preserveAspectRatio="none" style="vertical-align:-0.86px"><path transform="translate(0.08,0.08) scale(0.84)" d="M0.1,0.3 H0.9 M0.5,0.1 V0.95 M0.15,0.95 L0.5,0.55 L0.85,0.95" fill="none" stroke="#3a3a3a" stroke-width="0.136"/></svg><svg width="6.84" height="7.20" viewBox="0 0 1 1" preserveAspectRatio="none" style="vertical-align:-0.86px"><path transform="translate(0.08,0.08) scale(0.84)" d="M0.3,0.05 V0.95 M0.3,0.45 L0.85,0.7 M0.7,0.15 L0.85,0.3" fill="none" stroke="#3a3a3a" stroke-width="0.136"/></svg><svg width="6.84" height="7.20" viewBox="0 0 1 1" preserveAspectRatio="none" style="vertical-align:-0.86px"><path transform="translate(0.08,0.08) scale(0.84)" d="M0.3,0.05 V0.95 M0.3,0.45 L0.85,0.7 M0.7,0.15 L0.85,0.3" fill="none" stroke="#3a3a3a" stroke-width="0.136"/></svg><svg width="6.84" height="7.20" viewBox="0 0 1 1" preserveAspectRatio="none" style="vertical-align:-0.86px"><path transform="translate(0.08,0.08) scale(0.84)" d="M0.1,0.35 H0.9 M0.55,0.05 V0.6 Q0.5,0.85 0.25,0.95" fill="none" stroke="#3a3a3a" stroke-width="0.136"/></svg><svg width="6.84" height="7.20" viewBox="0 0 1 1" preserveAspectRatio="none" style="vertical-align:-0.86px"><path transform="translate(0.08,0.08) scale(0.84)" d="M0.1,0.5 H0.9" fill="none" stroke="#3a3a3a" stroke-width="0.136"/></svg></div><div class="td" style="left:420px;top:627.9px;width:111px;"><svg width="6.84" height="7.20" viewBox="0 0 1 1" preserveAspectRatio="none" style="vertical-align:-0.86px"><path transform="translate(0.08,0.08) scale(0.84)" d="M0.1,0.3 H0.9 M0.5,0.1 V0.95 M0.15,0.95 L0.5,0.55 L0.85,0.95" fill="none" stroke="#3a3a3a" stroke-width="0.136"/></svg><svg width="6.84" height="7.20" viewBox="0 0 1 1" preserveAspectRatio="none" style="vertical-align:-0.86px"><path transform="translate(0.08,0.08) scale(0.84)" d="M0.1,0.2 H0.9 Q0.8,0.6 0.45,0.9 M0.45,0.45 L0.3,0.7" fill="none" stroke="#3a3a3a" stroke-width="0.136"/></svg><svg width="6.84" height="7.20" viewBox="0 0 1 1" preserveAspectRatio="none" style="vertical-align:-0.86px"><path transform="translate(0.08,0.08) scale(0.84)" d="M0.1,0.5 H0.9 M0.35,0.1 L0.75,0.9 M0.7,0.2 L0.8,0.35" fill="none" stroke="#3a3a3a" stroke-width="0.136"/></svg><svg width="6.84" height="7.20" viewBox="0 0 1 1" preserveAspectRatio="none" style="vertical-align:-0.86px"><path transform="translate(0.08,0.08) scale(0.84)" d="M0.1,0.3 H0.9 M0.5,0.1 V0.95 M0.15,0.95 L0.5,0.55 L0.85,0.95" fill="none" stroke="#3a3a3a" stroke-width="0.136"/></svg><svg width="6.84" height="7.20" viewBox="0 0 1 1" preserveAspectRatio="none" style="vertical-align:-0.86px"><path transform="translate(0.08,0.08) scale(0.84)" d="M0.1,0.35 H0.9 M0.55,0.05 V0.6 Q0.5,0.85 0.25,0.95" fill="none" stroke="#3a3a3a" stroke-width="0.136"/></svg><svg width="6.84" height="7.20" viewBox="0 0 1 1" preserveAspectRatio="none" style="vertical-align:-0.86px"><path transform="translate(0.08,0.08) scale(0.84)" d="M0.1,0.35 H0.9 M0.55,0.05 V0.6 Q0.5,0.85 0.25,0.95" fill="none" stroke="#3a3a3a" stroke-width="0.136"/></svg><svg width="6.84" height="7.20" viewBox="0 0 1 1" preserveAspectRatio="none" style="vertical-align:-0.86px"><path transform="translate(0.08,0.08) scale(0.84)" d="M0.1,0.5 H0.9 M0.35,0.1 L0.75,0.9 M0.7,0.2 L0.8,0.35" fill="none" stroke="#3a3a3a" stroke-width="0.136"/></svg><svg width="6.84" height="7.20" viewBox="0 0 1 1" preserveAspectRatio="none" style="vertical-align:-0.86px"><path transform="translate(0.08,0.08) scale(0.84)" d="M0.1,0.5 H0.9 M0.35,0.1 L0.75,0.9 M0.7,0.2 L0.8,0.35" fill="none" stroke="#3a3a3a" stroke-width="0.136"/></svg><svg width="6.84" height="7.20" viewBox="0 0 1 1" preserveAspectRatio="none" style="vertical-align:-0.86px"><path transform="translate(0.08,0.08) scale(0.84)" d="M0.15,0.15 L0.85,0.85 M0.85,0.2 L0.25,0.8 M0.5,0.1 V0.3" fill="none" stroke="#3a3a3a" stroke-width="0.136"/></svg><svg width="6.84" height="7.20" viewBox="0 0 1 1" preserveAspectRatio="none" style="vertical-align:-0.86px"><path transform="translate(0.08,0.08) scale(0.84)" d="M0.1,0.3 H0.9 M0.5,0.1 V0.95 M0.15,0.95 L0.5,0.55 L0.85,0.95" fill="none" stroke="#3a3a3a" stroke-width="0.136"/></svg><svg width="6.84" height="7.20" viewBox="0 0 1 1" preserveAspectRatio="none" style="vertical-align:-0.86px"><path transform="translate(0.08,0.08) scale(0.84)" d="M0.3,0.05 V0.95 M0.3,0.45 L0.85,0.7 M0.7,0.15 L0.85,0.3" fill="none" stroke="#3a3a3a" stroke-width="0.136"/></svg><svg width="6.84" height="7.20" viewBox="0 0 1 1" preserveAspectRatio="none" style="vertical-align:-0.86px"><path transform="translate(0.08,0.08) scale(0.84)" d="M0.3,0.05 V0.95 M0.3,0.45 L0.85,0.7 M0.7,0.15 L0.85,0.3" fill="none" stroke="#3a3a3a" stroke-width="0.136"/></svg><svg width="6.84" height="7.20" viewBox="0 0 1 1" preserveAspectRatio="none" style="vertical-align:-0.86px"><path transform="translate(0.08,0.08) scale(0.84)" d="M0.1,0.35 H0.9 M0.55,0.05 V0.6 Q0.5,0.85 0.25,0.95" fill="none" stroke="#3a3a3a" stroke-width="0.136"/></svg><svg width="6.84" height="7.20" viewBox="0 0 1 1" preserveAspectRatio="none" style="vertical-align:-0.86px"><path transform="translate(0.08,0.08) scale(0.84)" d="M0.1,0.5 H0.9" fill="none" stroke="#3a3a3a" stroke-width="0.136"/></svg></div><div class="td" style="left:537.3px;top:627.9px;width:90px;">202404_<svg width="6.84" height="7.20" viewBox="0 0 1 1" preserveAspectRatio="none" style="vertical-align:-0.86px"><path transform="translate(0.08,0.08) scale(0.84)" d="M0.1,0.5 H0.9 M0.35,0.1 L0.75,0.9 M0.7,0.2 L0.8,0.35" fill="none" stroke="#3a3a3a" stroke-width="0.136"/></svg><svg width="6.84" height="7.20" viewBox="0 0 1 1" preserveAspectRatio="none" style="vertical-align:-0.86px"><path transform="translate(0.08,0.08) scale(0.84)" d="M0.3,0.05 V0.95 M0.3,0.45 L0.85,0.7 M0.7,0.15 L0.85,0.3" fill="none" stroke="#3a3a3a" stroke-width="0.136"/></svg><svg width="6.84" height="7.20" viewBox="0 0 1 1" preserveAspectRatio="none" style="vertical-align:-0.86px"><path transform="translate(0.08,0.08) scale(0.84)" d="M0.1,0.3 H0.9 M0.5,0.1 V0.95 M0.15,0.95 L0.5,0.55 L0.85,0.95" fill="none" stroke="#3a3a3a" stroke-width="0.136"/></svg><svg width="6.84" height="7.20" viewBox="0 0 1 1" preserveAspectRatio="none" style="vertical-align:-0.86px"><path transform="translate(0.08,0.08) scale(0.84)" d="M0.1,0.35 H0.9 M0.55,0.05 V0.6 Q0.5,0.85 0.25,0.95" fill="none" stroke="#3a3a3a" stroke-width="0.136"/></svg><svg width="6.84" height="7.20" viewBox="0 0 1 1" preserveAspectRatio="none" style="vertical-align:-0.86px"><path transform="translate(0.08,0.08) scale(0.84)" d="M0.1,0.3 H0.9 M0.5,0.1 V0.95 M0.15,0.95 L0.5,0.55 L0.85,0.95" fill="none" stroke="#3a3a3a" stroke-width="0.136"/></svg><svg width="6.84" height="7.20" viewBox="0 0 1 1" preserveAspectRatio="none" style="vertical-align:-0.86px"><path transform="translate(0.08,0.08) scale(0.84)" d="M0.1,0.2 H0.9 Q0.8,0.6 0.45,0.9 M0.45,0.45 L0.3,0.7" fill="none" stroke="#3a3a3a" stroke-width="0.136"/></svg><svg width="6.84" height="7.20" viewBox="0 0 1 1" preserveAspectRatio="none" style="vertical-align:-0.86px"><path transform="translate(0.08,0.08) scale(0.84)" d="M0.1,0.5 H0.9 M0.35,0.1 L0.75,0.9 M0.7,0.2 L0.8,0.35" fill="none" stroke="#3a3a3a" stroke-width="0.136"/></svg><svg width="6.84" height="7.20" viewBox="0 0 1 1" preserveAspectRatio="none" style="vertical-align:-0.86px"><path transform="translate(0.08,0.08) scale(0.84)" d="M0.1,0.3 H0.9 M0.5,0.1 V0.95 M0.15,0.95 L0.5,0.55 L0.85,0.95" fill="none" stroke="#3a3a3a" stroke-width="0.136"/></svg><svg width="6.84" height="7.20" viewBox="0 0 1 1" preserveAspectRatio="none" style="vertical-align:-0.86px"><path transform="translate(0.08,0.08) scale(0.84)" d="M0.1,0.35 H0.9 M0.55,0.05 V0.6 Q0.5,0.85 0.25,0.95" fill="none" stroke="#3a3a3a" stroke-width="0.136"/></svg><svg width="6.84" height="7.20" viewBox="0 0 1 1" preserveAspectRatio="none" style="vertical-align:-0.86px"><path transform="translate(0.08,0.08) scale(0.84)" d="M0.1,0.35 H0.9 M0.55,0.05 V0.6 Q0.5,0.85 0.25,0.95" fill="none" stroke="#3a3a3a" stroke-width="0.136"/></svg><svg width="6.84" height="7.20" viewBox="0 0 1 1" preserveAspectRatio="none" style="vertical-align:-0.86px"><path transform="translate(0.08,0.08) scale(0.84)" d="M0.1,0.5 H0.9 M0.35,0.1 L0.75,0.9 M0.7,0.2 L0.8,0.35" fill="none" stroke="#3a3a3a" stroke-width="0.136"/></svg><svg width="6.84" height="7.20" viewBox="0 0 1 1" preserveAspectRatio="none" style="vertical-align:-0.86px"><path transform="translate(0.08,0.08) scale(0.84)" d="M0.1,0.5 H0.9 M0.35,0.1 L0.75,0.9 M0.7,0.2 L0.8,0.35" fill="none" stroke="#3a3a3a" stroke-width="0.136"/></svg><svg width="6.84" height="7.20" viewBox="0 0 1 1" preserveAspectRatio="none" style="vertical-align:-0.86px"><path transform="translate(0.08,0.08) scale(0.84)" d="M0.15,0.15 L0.85,0.85 M0.85,0.2 L0.25,0.8 M0.5,0.1 V0.3" fill="none" stroke="#3a3a3a" stroke-width="0.136"/></svg><svg width="6.84" height="7.20" viewBox="0 0 1 1" preserveAspectRatio="none" style="vertical-align:-0.86px"><path transform="translate(0.08,0.08) scale(0.84)" d="M0.1,0.3 H0.9 M0.5,0.1 V0.95 M0.15,0.95 L0.5,0.55 L0.85,0.95" fill="none" stroke="#3a3a3a" stroke-width="0.136"/></svg><svg width="6.84" height="7.20" viewBox="0 0 1 1" preserveAspectRatio="none" style="vertical-align:-0.86px"><path transform="translate(0.08,0.08) scale(0.84)" d="M0.3,0.05 V0.95 M0.3,0.45 L0.85,0.7 M0.7,0.15 L0.85,0.3" fill="none" stroke="#3a3a3a" stroke-width="0.136"/></svg></div><div class="td" style="left:639px;top:627.9px;">May 2024</div><div class="td" style="left:739.1px;top:627.9px;">202405</div><div class="td" style="left:839.1px;top:627.9px;">56,354</div><div class="td" style="left:939.7px;top:627.9px;">5,635</div><div class="td" style="left:1039.2px;top:627.9px;">61,989</div>

    <div class="a" style="left:1219px;top:553px;width:5px;height:78px;border-radius:3px;background:#c8c8c8"></div>
  </div>
</div>
<!-- chart scrollbar -->
<div class="a" style="left:1263.5px;top:265.5px;width:5.5px;height:180.5px;border-radius:3px;background:#a3a3a3"></div>
<!-- cursor -->
<svg class="a" style="left:1271.5px;top:373.5px" width="10" height="14"><path d="M0.8,0.8 L0.8,9.4 L2.9,7.6 L4.4,10.8 L5.7,10.2 L4.3,7.1 L7,7.1 Z" fill="#111" stroke="#fff" stroke-width="0.6"/></svg>
</body></html>
